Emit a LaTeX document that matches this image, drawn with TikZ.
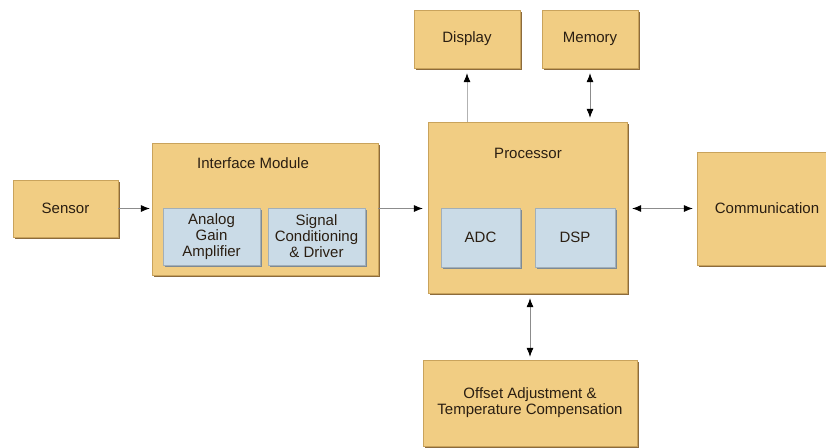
\documentclass[tikz,border=0pt]{standalone}
\usepackage{fontspec}
\setmainfont{Liberation Sans}
\usepackage{xcolor}
\usetikzlibrary{arrows.meta,shadows}

\definecolor{boxfill}{HTML}{F1CD83}
\definecolor{boxline}{HTML}{C9A35C}
\definecolor{boxshade}{HTML}{8C6B3C}
\definecolor{subfill}{HTML}{CADBE7}
\definecolor{subshade}{HTML}{7E8A93}
\definecolor{labeltext}{HTML}{2A1E12}

\begin{document}
\begin{tikzpicture}[x=1pt,y=-1pt,
  font=\fontsize{15}{16}\selectfont, text=labeltext,
  block/.style={draw=boxline, line width=0.4pt, fill=boxfill, align=center,
    drop shadow={shadow xshift=2pt, shadow yshift=-2pt, fill=boxshade, opacity=1},
    inner sep=0pt},
  subblock/.style={draw=subfill!80!black, line width=0.4pt, fill=subfill, align=center,
    drop shadow={shadow xshift=1.8pt, shadow yshift=-1.8pt, fill=subshade, opacity=1},
    inner sep=0pt},
  link/.style={draw=black!45, line width=0.7pt,
    arrows={-Latex[black,length=9pt,width=7pt]}},
  biglink/.style={draw=black!45, line width=0.7pt,
    arrows={Latex[black,length=9pt,width=7pt]-Latex[black,length=9pt,width=7pt]}}]
\useasboundingbox (0,0) rectangle (826,447);

\node[block, minimum width=105pt, minimum height=57pt] (sensor) at (65.5,208.5) {Sensor};

\node[block, minimum width=226pt, minimum height=132pt] (iface) at (265,209) {};
\node (ifacetitle) at (253,163) {Interface Module};
\node[subblock, minimum width=97pt, minimum height=57pt] (amp) at (211.5,236.5) {Analog\\Gain\\Amplifier};
\node[subblock, minimum width=97pt, minimum height=57pt] (cond) at (316.5,236.5) {Signal\\Conditioning\\\& Driver};

\node[block, minimum width=199pt, minimum height=171pt] (proc) at (527.5,207.5) {};
\node (proctitle) at (528,153) {Processor};
\node[subblock, minimum width=79pt, minimum height=59pt] (adc) at (480.5,237.5) {ADC};
\node[subblock, minimum width=80pt, minimum height=59pt] (dsp) at (575,237.5) {DSP};

\node[block, minimum width=140pt, minimum height=113pt] (comm) at (767,208.5) {Communication};
\node[block, minimum width=106pt, minimum height=58pt] (display) at (467,39) {Display};
\node[block, minimum width=96pt, minimum height=58pt] (memory) at (590,39) {Memory};
\node[block, minimum width=214pt, minimum height=86pt] (offset) at (530,403) {Offset Adjustment \&\\Temperature Compensation};

\draw[link, shorten >=2pt] (sensor.east) -- (sensor.east -| iface.west);
\draw[link, shorten >=5pt] (iface.east |- sensor.east) -- (proc.west |- sensor.east);
\draw[biglink, shorten <=5pt, shorten >=4pt] (proc.east |- sensor.east) -- (comm.west |- sensor.east);
\draw[link, draw=black!30, shorten >=5pt] (display.south |- proc.north) -- (display.south);
\draw[biglink, shorten <=5pt, shorten >=4pt] (memory.south) -- (memory.south |- proc.north);
\draw[biglink, shorten <=5pt, shorten >=3pt] (proc.south -| offset.north) -- (offset.north);
\end{tikzpicture}
\end{document}
